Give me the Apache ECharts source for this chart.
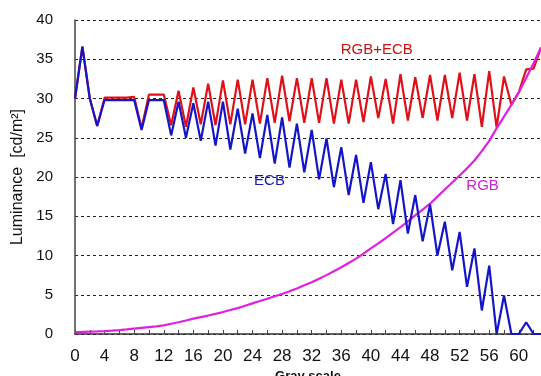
<!DOCTYPE html>
<html>
<head>
<meta charset="utf-8">
<script src="https://cdn.jsdelivr.net/npm/echarts@6/dist/echarts.min.js"></script>
<style>
    html, body { margin: 0; padding: 0; background: #fff; }
    #chart { width: 541px; height: 376px; }
</style>
</head>
<body>
<div id="chart"></div>
<script>
// 계조 (gray scale) 0 ~ 63
var grayLevels = [
    0, 1, 2, 3, 4, 5, 6, 7, 8, 9, 10, 11, 12, 13, 14, 15,
    16, 17, 18, 19, 20, 21, 22, 23, 24, 25, 26, 27, 28, 29, 30, 31,
    32, 33, 34, 35, 36, 37, 38, 39, 40, 41, 42, 43, 44, 45, 46, 47,
    48, 49, 50, 51, 52, 53, 54, 55, 56, 57, 58, 59, 60, 61, 62, 63
];

// RGB+ECB 휘도
var rgbEcbLum = [
    30, 36.6, 30, 26.5, 30.1, 30.1, 30.1, 30.1, 30.2, 26.2, 30.5, 30.5, 30.5, 26.6, 31, 26.4,
    31.4, 26.7, 31.9, 26.6, 32.3, 26.7, 32.4, 26.7, 32.4, 26.8, 32.6, 26.9, 32.9, 27.1, 32.6, 26.9,
    32.6, 26.9, 32.6, 26.8, 32.4, 26.8, 32.4, 27, 32.8, 27.5, 32.5, 26.8, 33.1, 27.2, 32.7, 27.5,
    33, 27.2, 33, 27.5, 33.3, 27.2, 33.1, 26.4, 33.5, 26.3, 32.8, 29.2, 30.8, 33.7, 33.8, 36.5
];

// ECB 휘도
var ecbLum = [
    30, 36.6, 30, 26.5, 29.8, 29.8, 29.8, 29.8, 29.8, 26, 29.8, 29.8, 29.8, 25.3, 29.6, 25,
    29.4, 24.6, 29.6, 24, 29.6, 23.5, 28.7, 23, 28.1, 22.4, 27.9, 21.7, 27.6, 21.2, 26.8, 20.6,
    26, 19.7, 24.9, 18.7, 23.8, 17.7, 22.8, 16.7, 21.9, 15.9, 20.4, 14, 19.6, 12.8, 17.7, 11.8,
    16.5, 10, 14.3, 8.1, 13, 6, 10.9, 3, 8.7, 0, 4.9, 0, 0, 1.5, 0, 0
];

// RGB 휘도
var rgbLum = [
    0.25, 0.27, 0.3, 0.33, 0.37, 0.43, 0.5, 0.58, 0.68, 0.78, 0.88, 0.98, 1.1, 1.3, 1.5, 1.72,
    1.95, 2.15, 2.35, 2.57, 2.8, 3.05, 3.3, 3.6, 3.9, 4.2, 4.5, 4.8, 5.1, 5.45, 5.8, 6.2,
    6.6, 7.05, 7.5, 8, 8.5, 9.05, 9.6, 10.25, 10.9, 11.55, 12.2, 12.9, 13.6, 14.35, 15.1, 15.85,
    16.6, 17.5, 18.4, 19.3, 20.2, 21.1, 22.1, 23.3, 24.6, 26.2, 27.7, 29.2, 30.8, 32.6, 34.5, 36.5
];

var yTicks = { min: 0, max: 40, step: 5 };
var xTicks = { min: 0, max: 63, step: 4 };

// 곡선 이름표 [이름, 계조, 휘도]
var curveLabels = [
    ['RGB+ECB', 40.8, 36.2],
    ['ECB', 26.3, 19.5],
    ['RGB', 55.1, 18.9]
];

function pairs(ys) {
    return grayLevels.map(function(g, i) { return [g, ys[i]]; });
}

function nameTag(idx, color) {
    var c = curveLabels[idx];
    return {
        symbol: 'circle',
        symbolSize: 0,
        silent: true,
        label: {
            show: true,
            position: 'inside',
            formatter: c[0],
            color: color,
            fontSize: 15,
            fontFamily: 'Liberation Sans, Arial, sans-serif'
        },
        data: [{ coord: [c[1], c[2]] }]
    };
}

var chart = echarts.init(document.getElementById('chart'));

var option = {
    animation: false,
    backgroundColor: '#ffffff',
    grid: {
        left: 75,
        right: 0,
        top: 20,
        bottom: 42,
        containLabel: false,
        outerBoundsMode: 'none'
    },
    xAxis: {
        type: 'value',
        min: xTicks.min,
        max: xTicks.max,
        interval: xTicks.step,
        name: 'Gray scale',
        nameLocation: 'middle',
        nameGap: 32,
        nameTextStyle: {
            fontSize: 13,
            fontWeight: 'bold',
            color: '#111',
            fontFamily: 'Liberation Sans, Arial, sans-serif'
        },
        axisLine: { lineStyle: { color: '#333', width: 1.5 } },
        axisTick: { inside: true, length: 4, lineStyle: { color: '#444' } },
        minorTick: { show: true, splitNumber: 2, length: 4, lineStyle: { color: '#444' } },
        axisLabel: {
            margin: 14,
            fontSize: 17,
            color: '#111',
            showMaxLabel: false,
            fontFamily: 'Liberation Sans, Arial, sans-serif',
            formatter: function(v) { return v % 4 === 0 ? String(v) : ''; }
        },
        splitLine: { show: false }
    },
    yAxis: {
        type: 'value',
        min: yTicks.min,
        max: yTicks.max,
        interval: yTicks.step,
        name: 'Luminance  [cd/m²]',
        nameLocation: 'middle',
        nameGap: 48,
        nameTextStyle: {
            fontSize: 16,
            color: '#111',
            fontFamily: 'Liberation Sans, Arial, sans-serif'
        },
        axisLine: { show: true, lineStyle: { color: '#444', width: 1.5 } },
        axisTick: { show: false },
        axisLabel: {
            margin: 22,
            fontSize: 15,
            color: '#111',
            fontFamily: 'Liberation Sans, Arial, sans-serif'
        },
        splitLine: {
            lineStyle: { color: '#222', type: [3, 3], width: 1 }
        }
    },
    series: [{
        name: 'RGB+ECB',
        type: 'line',
        data: pairs(rgbEcbLum),
        symbol: 'none',
        lineStyle: { color: '#e01018', width: 2.2 },
        itemStyle: { color: '#e01018' },
        markPoint: nameTag(0, '#cc1010')
    }, {
        name: 'RGB',
        type: 'line',
        data: pairs(rgbLum),
        symbol: 'none',
        lineStyle: { color: '#e020e0', width: 2.2 },
        itemStyle: { color: '#e020e0' },
        markPoint: nameTag(2, '#d020d0')
    }, {
        name: 'ECB',
        type: 'line',
        data: pairs(ecbLum),
        symbol: 'none',
        lineStyle: { color: '#1515c8', width: 2.2 },
        itemStyle: { color: '#1515c8' },
        markPoint: nameTag(1, '#1818b0')
    }]
};

chart.setOption(option);
</script>
</body>
</html>
